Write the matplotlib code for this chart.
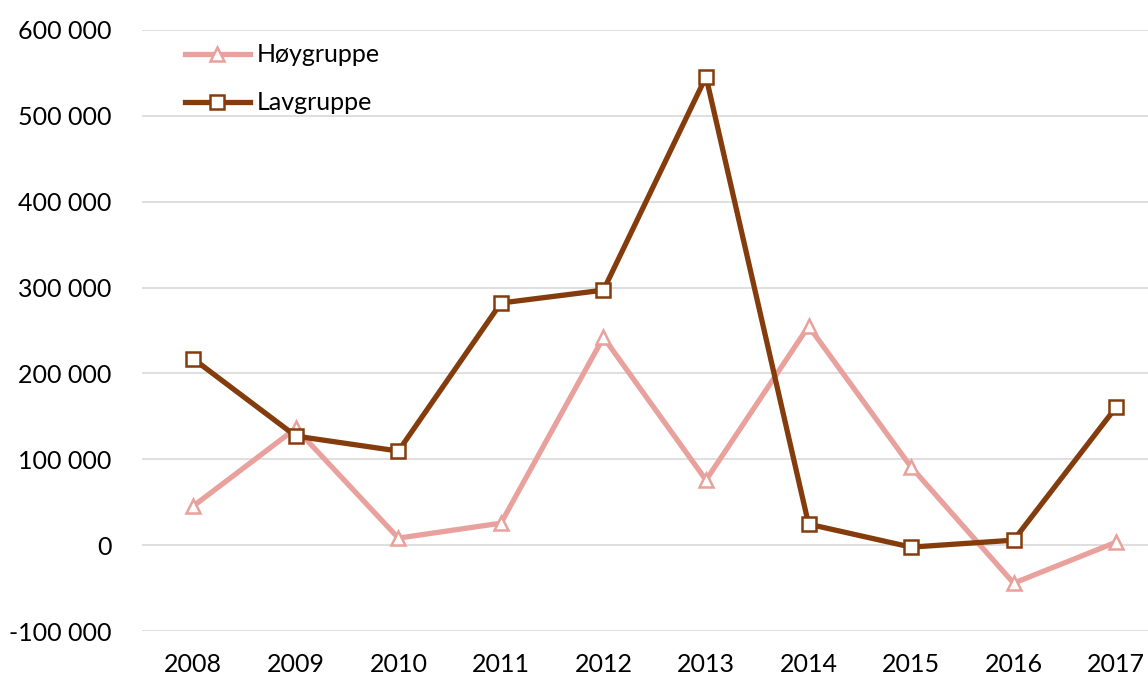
import matplotlib.pyplot as plt
from matplotlib.ticker import FuncFormatter

years = ["2008", "2009", "2010", "2011", "2012", "2013", "2014", "2015", "2016", "2017"]
hoy = [45500, 136000, 8200, 25600, 242000, 75800, 255000, 91000, -44300, 3500]
lav = [217000, 127000, 109600, 282000, 297000, 545500, 24500, -2300, 5800, 160800]

plt.rcParams['font.family'] = ['Lato', 'DejaVu Sans']

fig = plt.figure(figsize=(11.48, 6.78), dpi=100)
ax = fig.add_axes([0.1237, 0.0693, 0.8763, 0.8865])

x = range(len(years))
ax.plot(x, hoy, color="#E8A19C", lw=3.8, marker="^", ms=10, mfc="white",
        mec="#E8A19C", mew=1.8, label="Høygruppe")
ax.plot(x, lav, color="#843C0C", lw=3.8, marker="s", ms=10, mfc="white",
        mec="#843C0C", mew=1.8, label="Lavgruppe")

ax.set_ylim(-100000, 600000)
ax.set_xlim(-0.5, 9.31)
ax.set_yticks(range(-100000, 600001, 100000))
ax.yaxis.set_major_formatter(FuncFormatter(lambda v, p: f"{int(v):,}".replace(",", " ")))
ax.set_xticks(list(x))
ax.set_xticklabels(years)
ax.grid(axis="y", color="#D9D9D9", lw=1.2)
ax.set_axisbelow(True)
for s in ax.spines.values():
    s.set_visible(False)
ax.tick_params(length=0, labelsize=18, colors="#000000")
ax.tick_params(axis="x", pad=16)
ax.tick_params(axis="y", pad=22)

ax.legend(loc="upper left", bbox_to_anchor=(0.02, 1.015), frameon=False,
          fontsize=18, handlelength=2.6, labelspacing=1.0, handletextpad=0.3)

fig.savefig("out.png", dpi=100)
